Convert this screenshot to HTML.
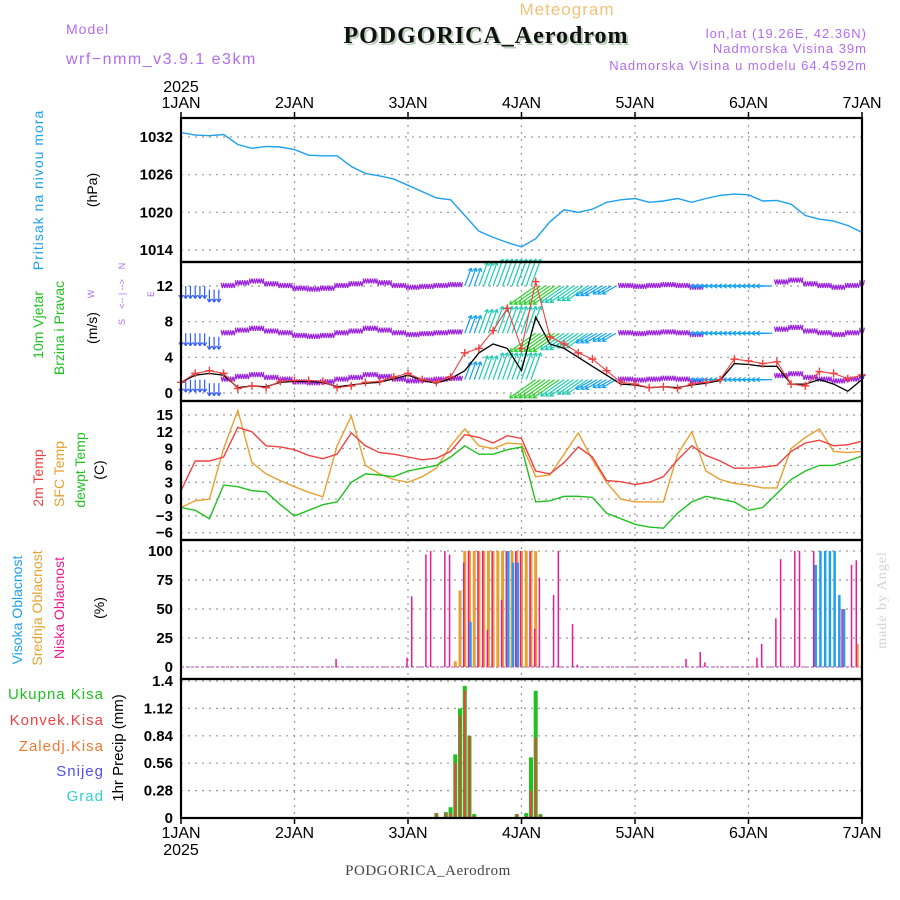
<!DOCTYPE html>
<html><head><meta charset="utf-8"><style>
html,body{margin:0;padding:0;background:#fff;}
svg{display:block;font-family:"Liberation Sans",sans-serif;}
</style></head><body>
<svg id="chart" width="900" height="900" viewBox="0 0 900 900" xmlns="http://www.w3.org/2000/svg">
<text x="567" y="15" font-size="17" fill="#f2c27a" text-anchor="middle" letter-spacing="1">Meteogram</text>
<text x="488" y="45" font-size="24" font-weight="bold" fill="#b8d0b8" text-anchor="middle" font-family="Liberation Serif, serif" letter-spacing="1">PODGORICA_Aerodrom</text>
<text x="486" y="43" font-size="24" font-weight="bold" fill="#111" text-anchor="middle" font-family="Liberation Serif, serif" letter-spacing="1">PODGORICA_Aerodrom</text>
<text x="66" y="34" font-size="14" fill="#b36cf0" letter-spacing="1">Model</text>
<text x="66" y="64" font-size="16" fill="#b36cf0" letter-spacing="1.5">wrf−nmm_v3.9.1  e3km</text>
<text x="867" y="38" font-size="13" fill="#b36cf0" text-anchor="end" letter-spacing="1">lon,lat (19.26E, 42.36N)</text>
<text x="867" y="53" font-size="13" fill="#b36cf0" text-anchor="end" letter-spacing="1">Nadmorska Visina 39m</text>
<text x="867" y="70" font-size="13" fill="#b36cf0" text-anchor="end" letter-spacing="1">Nadmorska Visina u modelu 64.4592m</text>
<text x="428" y="875" font-size="15" fill="#444" text-anchor="middle" font-family="Liberation Serif, serif" letter-spacing="0.5">PODGORICA_Aerodrom</text>
<text transform="translate(886,600) rotate(-90)" font-size="14" fill="#ccd8cc" text-anchor="middle" font-family="Liberation Serif, serif" letter-spacing="1">made by Angel</text>
<g>
<text transform="translate(43,190) rotate(-90)" font-size="14" fill="#1ea0f0" text-anchor="middle" letter-spacing="1">Pritisak na nivou mora</text>
<text transform="translate(97,190) rotate(-90)" font-size="14" fill="#000" text-anchor="middle">(hPa)</text>
</g>
<g>
<text transform="translate(43,325) rotate(-90)" font-size="14" fill="#20c020" text-anchor="middle">10m Vjetar</text>
<text transform="translate(64,328) rotate(-90)" font-size="14" fill="#20c020" text-anchor="middle">Brzina i Pravac</text>
<text transform="translate(97,328) rotate(-90)" font-size="14" fill="#000" text-anchor="middle">(m/s)</text>
<g transform="translate(122,294) rotate(-90)" font-size="9" fill="#b36cf0" text-anchor="middle">
<text x="0" y="-28">W</text><text x="0" y="32">E</text><text x="-28" y="3">S</text><text x="28" y="3">N</text>
<text x="0" y="3">&lt;-- | --&gt;</text>
</g>
</g>
<g>
<text transform="translate(43,478) rotate(-90)" font-size="14" fill="#f04040" text-anchor="middle">2m Temp</text>
<text transform="translate(64,474) rotate(-90)" font-size="14" fill="#e8a030" text-anchor="middle">SFC Temp</text>
<text transform="translate(85,470) rotate(-90)" font-size="14" fill="#20c020" text-anchor="middle">dewpt Temp</text>
<text transform="translate(104,470) rotate(-90)" font-size="14" fill="#000" text-anchor="middle">(C)</text>
</g>
<g>
<text transform="translate(22,610) rotate(-90)" font-size="14" fill="#1ea0f0" text-anchor="middle">Visoka Oblacnost</text>
<text transform="translate(42,608) rotate(-90)" font-size="14" fill="#e8a030" text-anchor="middle">Srednja Oblacnost</text>
<text transform="translate(64,608) rotate(-90)" font-size="14" fill="#f01890" text-anchor="middle">Niska Oblacnost</text>
<text transform="translate(104,608) rotate(-90)" font-size="14" fill="#000" text-anchor="middle">(%)</text>
</g>
<g font-size="15" text-anchor="end" letter-spacing="1">
<text x="104" y="699" fill="#20c020">Ukupna  Kisa</text>
<text x="104" y="725" fill="#f04040">Konvek.Kisa</text>
<text x="104" y="751" fill="#f07830">Zaledj.Kisa</text>
<text x="104" y="776" fill="#5050f0">Snijeg</text>
<text x="104" y="801" fill="#30d0d0">Grad</text>
<text transform="translate(123,748) rotate(-90)" font-size="15" fill="#000" text-anchor="middle" letter-spacing="0">1hr Precip (mm)</text>
</g>
<g id="plot"></g>
</svg>
<script>
// ---- data (3-hourly, 49 points from 1JAN 00 to 7JAN 00) ----
const dayLabels = ["1JAN","2JAN","3JAN","4JAN","5JAN","6JAN","7JAN"];
const pressure = [1032.7,1032.3,1032.2,1032.4,1030.8,1030.2,1030.5,1030.4,1030.0,1029.1,1029.0,1029.0,1027.3,1026.2,1025.8,1025.3,1024.3,1023.3,1022.3,1022.0,1019.5,1017.0,1016.0,1015.2,1014.5,1015.8,1018.5,1020.4,1020.0,1020.5,1021.6,1022.0,1022.2,1021.6,1021.8,1022.2,1021.6,1022.2,1022.7,1022.9,1022.8,1021.8,1021.9,1021.3,1019.5,1018.9,1018.6,1017.9,1016.8];
const windSpeed = [1.2,2.2,2.5,2.2,0.5,0.8,0.6,1.3,1.4,1.4,1.3,0.6,0.8,1.2,1.3,1.8,2.2,1.5,1.2,1.8,4.5,5.0,7.0,9.5,5.0,12.5,6.3,5.5,4.5,3.8,2.5,1.2,1.0,0.6,0.7,0.5,1.0,1.2,1.5,3.8,3.6,3.3,3.5,1.0,0.8,2.4,2.2,1.6,2.0];
const windGust = [1.2,2.0,2.2,2.0,0.6,0.8,0.7,1.2,1.3,1.3,1.2,0.7,0.9,1.1,1.2,1.6,2.0,1.4,1.1,1.6,2.5,4.5,5.5,5.0,2.5,8.5,5.5,5.0,4.0,3.0,2.0,1.0,0.9,0.6,0.7,0.6,0.9,1.1,1.4,3.3,3.2,3.0,3.0,1.0,1.0,1.5,1.0,0.2,1.5];
const windDir = [180,180,180,270,270,270,270,270,270,270,270,270,270,270,270,270,270,270,270,270,20,20,20,20,20,235,235,235,235,240,240,270,270,270,270,270,270,270,270,270,270,270,270,270,270,270,270,270,270];
const windArrowSpd = [3,3,3,1,1,1,1,1,1,1,1,1,1,1,1,1,1,1,1,1,5,7,8,8,8,9,9,8,7,5,4,1,1,1,1,1,1,4,4,4,4,4,1,1,1,1,1,1,1];
const windRowWave = [0,0,-0.4,0,0.3,0.5,0.2,0,-0.3,-0.4,-0.3,0,0.2,0.5,0.3,0,-0.2,-0.1,0,0.1,0,0,0,0,0,0,0,0,0,0,0,0,-0.1,0,0.1,0,-0.2,0,0,0,0,0,0.4,0.6,0.2,0,-0.2,0,0.3];
const temp2m = [1.5,6.8,6.8,7.5,12.8,12.0,9.5,9.3,8.8,7.8,7.2,8.0,11.8,9.5,8.3,8.0,7.5,7.0,7.3,8.5,11.5,11.0,10.0,11.3,10.8,5.0,4.5,6.5,9.3,7.5,3.3,3.1,2.6,3.0,4.0,7.0,9.5,7.8,6.8,5.5,5.5,5.7,6.0,8.5,10.0,10.5,9.5,9.7,10.3];
const tempSfc = [-1.5,-0.3,0,9,15.8,6.5,4.5,3.3,2.2,1.2,0.4,9.5,14.8,6.0,4.5,3.5,3.0,4.0,5.5,9.5,12.5,9.5,9.0,10.0,9.8,4.0,4.3,8.0,11.8,7.0,3.0,0,-0.5,-0.5,-0.5,8,12,5.0,3.5,2.8,2.5,2.0,2.0,9.0,11,12.5,8.5,8.3,8.5];
const tempDew = [-1.5,-2,-3.5,2.5,2.2,1.5,1.3,-1,-3,-2,-1,-0.5,3,4.5,4.3,4.0,5.0,5.5,6.0,7.5,9.5,8.0,8.0,8.8,9.3,-0.5,-0.3,0.5,0.5,0.3,-2.5,-3.5,-4.5,-5,-5.2,-2.5,-0.5,0.5,0,-0.5,-2.0,-1.5,1.0,3.5,5.0,6.0,6.0,6.8,7.7];
const lowHours = [33,48,49,52,53,56,57,60,61,63,64,65,66,68,69,71,72,74,75,76,79,80,83,84,107,110,111,122,123,126,127,130,131,134,140,142,143];
const lowValues = [7,8,61,97,100,100,97,90,100,100,100,32,100,58,100,100,100,100,33,77,62,100,37,2,7,13,4,8,20,42,93,100,100,100,50,88,92];
const midHours = [58,59,60,61,62,63,64,65,66,67,68,70,71,72,73,74,75,143];
const midValues = [5,66,100,100,100,100,100,100,100,100,100,100,100,100,100,100,100,20];
const highHours = [61,69,70,71,134,135,136,137,138,139,140];
const highValues = [39,100,90,90,88,100,100,100,100,62,50];
const precipHours = [54,56,57,58,59,60,61,62,66,71,72,73,74,75,76];
const precipTotal = [0.05,0.06,0.11,0.65,1.12,1.35,0.84,0.04,0.01,0.04,0.01,0.05,0.62,1.3,0.04];
const precipConv = [0.05,0.05,0.05,0.56,1.05,1.3,0.84,0.02,0.01,0.04,0.01,0.02,0.28,0.82,0.03];
const pTicks=[1014,1020,1026,1032], wTicks=[0,4,8,12], tTicks=[-6,-3,0,3,6,9,12,15], cTicks=[0,25,50,75,100], rTicks=[0,0.28,0.56,0.84,1.12,1.4];
const rTickLabels=["0","0.28","0.56","0.84","1.12","1.4"];

const X0=181, X1=862;
const xH = h => X0 + (X1-X0)*h/144;
const x3 = i => xH(i*3);
const yP = v => 250 - (v-1014)*(113/18);
const yW = v => 393 - v*(107/12);
const yT = v => 532.7 - (v+6)*(117.7/21);
const yC = v => 667 - v*1.16;
const yR = v => 818 - v*(137/1.4);
const panels=[["pressure",118,262],["wind",262,401],["temp",401,540],["cloud",540,679],["precip",679,818]];
const NS="http://www.w3.org/2000/svg";
const plot=document.getElementById('plot');
function mk(tag,attrs,parent){const e=document.createElementNS(NS,tag);for(const k in attrs)e.setAttribute(k,attrs[k]);(parent||plot).appendChild(e);return e;}

panels.forEach(p=>{
  for(let d=1;d<6;d++){
    const l=mk('line',{x1:xH(d*24),x2:xH(d*24),y1:p[1],y2:p[2],stroke:'#999','stroke-dasharray':'2,5','stroke-width':1.2});
    
    
  }
});
function hgrid(ticks,yf,name,labels){
  ticks.forEach((t,i)=>{
    const y=yf(t);
    const l=mk('line',{x1:X0,x2:X1,y1:y,y2:y,stroke:'#999','stroke-dasharray':'2,5','stroke-width':1.2});
    
    
    const tk=mk('text',{x:173,y:y+5,'font-size':15,'text-anchor':'end',fill:'#000','font-weight':'bold'});
    tk.textContent=labels?labels[i]:String(t).replace('-','−');
    
    
  });
}
hgrid(pTicks,yP,'pressure');hgrid(wTicks,yW,'wind');hgrid(tTicks,yT,'temp');hgrid(cTicks,yC,'cloud');hgrid(rTicks,yR,'precip',rTickLabels);

function line(vals,yf,color,name,w){
  const pts=vals.map((v,i)=>x3(i).toFixed(1)+','+yf(v).toFixed(1)).join(' ');
  const l=mk('polyline',{points:pts,fill:'none',stroke:color,'stroke-width':w||1.4});
  
  
}
line(pressure,yP,'#1ea0f0','pressure-line');

// wind arrows, drawn hourly within each 3h slot
function col(s){return s<2?'#9a22dc':s<4?'#2f5bff':s<6?'#10a0f0':s<8.5?'#20ccb0':'#30d030';}
[12,6.7,1.5].forEach((lvl)=>{
  windDir.forEach((d,i)=>{
    const s=windArrowSpd[i], a=d*Math.PI/180;
    const g=mk('g',{stroke:col(s),'stroke-width':1.2,fill:'none'});
    
    
    const nk = i===windDir.length-1?1:3;
    for(let k=0;k<nk;k++){
      const bx=xH(i*3+k), by=yW(lvl+windRowWave[i]);
      if(s<2){
        mk('polyline',{points:`${bx-2.4},${by-3} ${bx-1.2},${by+2} ${bx},${by-3} ${bx+1.2},${by+2} ${bx+2.4},${by-3}`},g);
        continue;
      }
      const len=3+s*3.2;
      const ex=bx+len*Math.sin(a), ey=by-len*Math.cos(a);
      mk('line',{x1:bx,y1:by,x2:ex,y2:ey},g);
      const h=4;
      [a+Math.PI*0.82,a-Math.PI*0.82].forEach(b=>mk('line',{x1:ex,y1:ey,x2:ex+h*Math.sin(b),y2:ey-h*Math.cos(b)},g));
    }
  });
});
line(windGust,yW,'#000','wind-gust-line',1.3);
line(windSpeed,yW,'#f04040','wind-speed-line',1.1);
windSpeed.forEach((v,i)=>{
  const x=x3(i),y=yW(v);
  const m=mk('path',{d:`M${x-4},${y}H${x+4}M${x},${y-4}V${y+4}`,stroke:'#f04040','stroke-width':1.4});
  
  
});

line(tempSfc,yT,'#e8a030','sfc-temp-line');
line(temp2m,yT,'#f04040','temp-2m-line');
line(tempDew,yT,'#20c020','dewpoint-line');

function bars(hours,vals,yf,color,name,w,dx){
  hours.forEach((h,i)=>{
    const y=yf(vals[i]);
    const r=mk('rect',{x:xH(h)-w/2+(dx||0),y:y,width:w,height:Math.max(0,yf(0)-y),fill:color});
    
    
  });
}
const base=mk('line',{x1:X0,x2:X1,y1:yC(0),y2:yC(0),stroke:'#c070c0','stroke-width':1.2,'stroke-dasharray':'3,2'});


bars(midHours,midValues,yC,'#e8a030','cloud-mid-bar',3);
bars(highHours,highValues,yC,'#1ea0f0','cloud-high-bar',2.5,1);
bars(lowHours,lowValues,yC,'#f01890','cloud-low-bar',1.5,-1);
bars(precipHours,precipTotal,yR,'#20c020','precip-total-bar',4);
bars(precipHours,precipConv,yR,'#f04040','precip-convective-bar',2);

panels.forEach(p=>{
  const r=mk('rect',{x:X0,y:p[1],width:X1-X0,height:p[2]-p[1],fill:'none',stroke:'#000','stroke-width':2.2});
  
  
});
dayLabels.forEach((d,i)=>{
  [[108,'top'],[838,'bottom']].forEach(([y,pos])=>{
    const t=mk('text',{x:xH(i*24),y:y,'font-size':16,'text-anchor':'middle',fill:'#000'});
    t.textContent=d;
    
    
    const tk=mk('line',{x1:xH(i*24),x2:xH(i*24),y1:pos==='top'?112:818,y2:pos==='top'?118:824,stroke:'#000','stroke-width':1.5});
    
    
  });
});
[[92,'top'],[855,'bottom']].forEach(([y,pos])=>{
  const t=mk('text',{x:181,y:y,'font-size':16,'text-anchor':'middle',fill:'#000'});
  t.textContent='2025';
  
  
});
</script>
</body></html>
